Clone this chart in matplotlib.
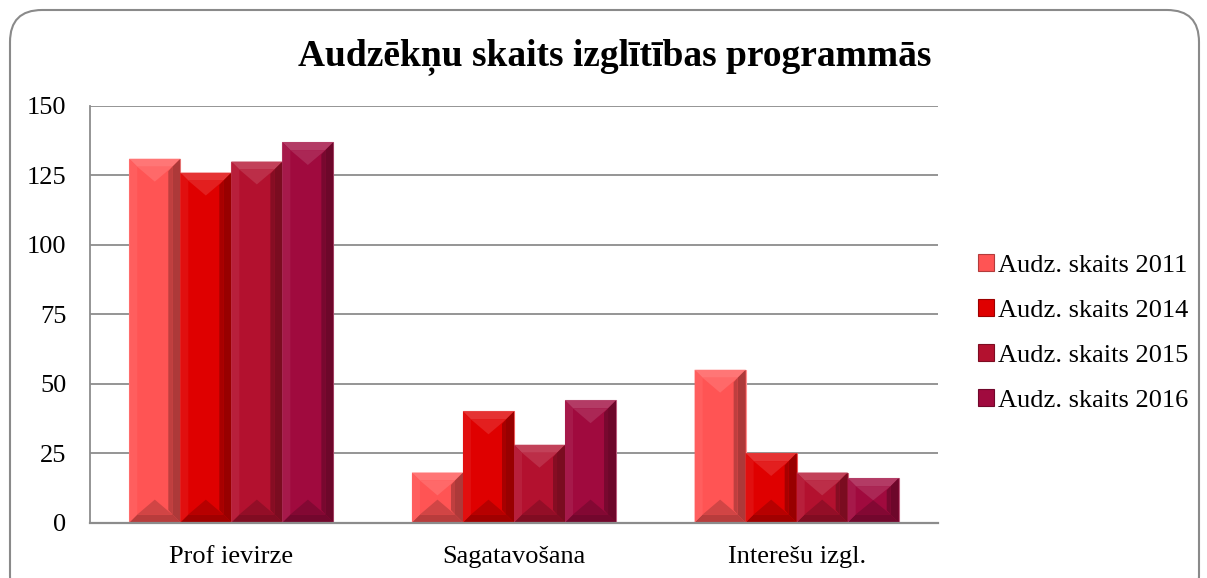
import matplotlib
matplotlib.use("Agg")
import matplotlib.pyplot as plt
import numpy as np
from matplotlib.patches import Polygon, FancyBboxPatch, Patch
from matplotlib.colors import to_rgb

categories = ["Prof ievirze", "Sagatavošana", "Interešu izgl."]
series_names = ["Audz. skaits 2011", "Audz. skaits 2014", "Audz. skaits 2015", "Audz. skaits 2016"]
v2011 = [131, 18, 55]
v2014 = [126, 40, 25]
v2015 = [130, 28, 18]
v2016 = [137, 44, 16]
yticks = [0, 25, 50, 75, 100, 125, 150]
title = "Audzēkņu skaits izglītības programmās"

series = [v2011, v2014, v2015, v2016]
colors = ["#FF5454", "#DF0000", "#B3112F", "#A00A3E"]

plt.rcParams['font.family'] = ['Liberation Serif', 'DejaVu Serif']

W, H, DPI = 1207, 578, 100
fig = plt.figure(figsize=(W / DPI, H / DPI), dpi=DPI)
ax = fig.add_axes([90 / W, 1 - 522.5 / H, (938 - 90) / W, (522.5 - 106) / H])

x = np.arange(len(categories))
bw = 0.1805
n = len(series)


def mix(c, t, amt):
    c = np.array(to_rgb(c)); t = np.array(to_rgb(t))
    return tuple(c + (t - c) * amt)


ax.set_xlim(-0.5, len(categories) - 0.5)
ax.set_ylim(0, 150)

ax_w_px = 938 - 90
ax_h_px = 522.5 - 106
px_x = (len(categories)) / ax_w_px
px_y = 150 / ax_h_px
bev = 8

for i, (vals, col) in enumerate(zip(series, colors)):
    offs = (i - (n - 1) / 2) * bw
    bars = ax.bar(x + offs, vals, width=bw, color=col, edgecolor=mix(col, "white", 0.35),
                  linewidth=0.8, zorder=3)
    for b in bars:
        x0 = b.get_x(); x1 = x0 + b.get_width()
        y0 = 0; y1 = b.get_height()
        dx = bev * px_x
        dy = min(bev * px_y, (y1 - y0) / 3)
        facets = [
            ([(x0, y1), (x1, y1), (x1 - dx, y1 - dy), (x0 + dx, y1 - dy)], mix(col, "white", 0.2)),
            ([(x0, y0), (x1, y0), (x1 - dx, y0 + dy), (x0 + dx, y0 + dy)], mix(col, "black", 0.28)),
            ([(x0, y0), (x0, y1), (x0 + dx, y1 - dy), (x0 + dx, y0 + dy)], mix(col, "white", 0.06)),
            ([(x1, y0), (x1, y1), (x1 - dx, y1 - dy), (x1 - dx, y0 + dy)], mix(col, "black", 0.32)),
        ]
        ix0, ix1 = x0 + dx, x1 - dx
        iy0, iy1 = y0 + dy, y1 - dy
        half_w_px = (ix1 - ix0) / px_x / 2
        depth = min(half_w_px * 0.85 * px_y, (iy1 - iy0) / 2)
        xc = (ix0 + ix1) / 2
        facets += [
            ([(ix0, iy1), (ix1, iy1), (xc, iy1 - depth)], mix(col, "white", 0.12)),
            ([(ix0, iy0), (ix1, iy0), (xc, iy0 + depth)], mix(col, "black", 0.18)),
            ([(ix1 - dx * 0.5, iy0 + depth * 0.3), (ix1, iy0), (ix1, iy1), (ix1 - dx * 0.5, iy1 - depth * 0.3)],
             mix(col, "black", 0.25)),
        ]
        for pts, fc in facets:
            ax.add_patch(Polygon(pts, closed=True, facecolor=fc, edgecolor="none", zorder=4))

ax.set_yticks(yticks)
ax.set_xticks(x)
ax.set_xticklabels(categories, fontsize=19)
ax.set_yticklabels([str(t) for t in yticks], fontsize=19)
ax.tick_params(axis='both', length=0)
ax.tick_params(axis='x', pad=17)
ax.tick_params(axis='y', pad=17)

ax.grid(axis='y', color='#8c8c8c', linewidth=1.3, zorder=0)
for s in ['top', 'right']:
    ax.spines[s].set_visible(False)
ax.spines['left'].set_color('#8c8c8c')
ax.spines['left'].set_linewidth(1.3)
ax.spines['bottom'].set_color('#8c8c8c')
ax.spines['bottom'].set_linewidth(1.6)
ax.spines['bottom'].set_zorder(5)

fig.text(615 / W, 1 - 57 / H, title, ha='center', va='center', fontsize=27, fontweight='bold')

handles = [Patch(facecolor=c, edgecolor=mix(c, "black", 0.3), linewidth=0.8) for c in colors]
fig.legend(handles, series_names, loc='center left', bbox_to_anchor=(978 / W, 1 - 333 / H),
           frameon=False, fontsize=19, handlelength=0.6, handleheight=0.6, handletextpad=0.15,
           labelspacing=0.84, borderaxespad=0, borderpad=0)

border = FancyBboxPatch((10 / DPI, -0.3), (1199 - 10) / DPI, (568 / DPI) + 0.3,
                        boxstyle="round,pad=0,rounding_size=0.32",
                        transform=fig.dpi_scale_trans, facecolor='none', edgecolor='#8a8a8a',
                        linewidth=1.5, zorder=10, clip_on=False)
fig.patches.append(border)

fig.savefig("out.png", dpi=DPI)
